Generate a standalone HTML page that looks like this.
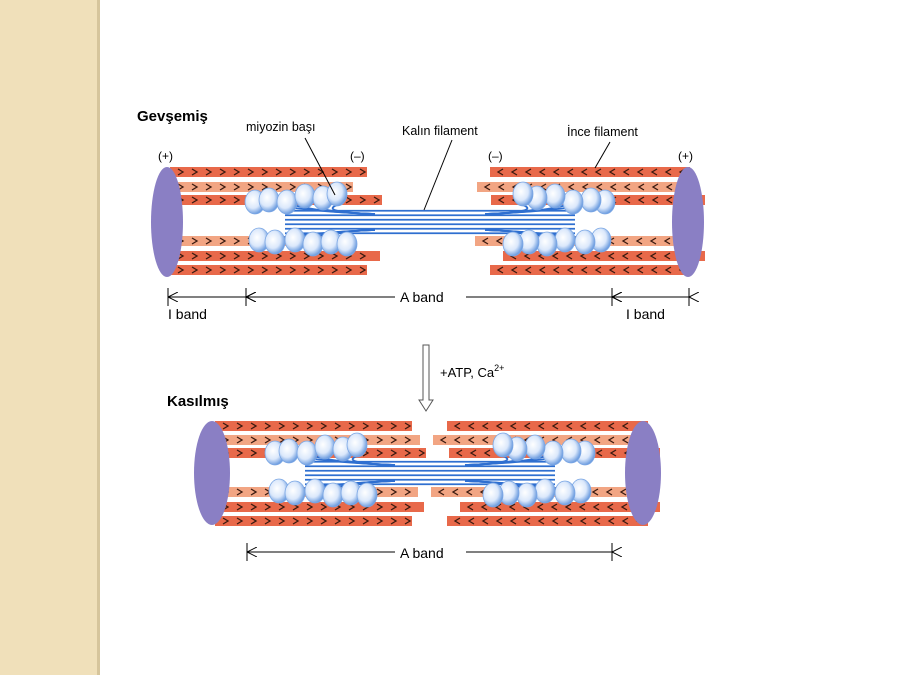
<!DOCTYPE html>
<html><head><meta charset="utf-8"><style>
body{margin:0;width:900px;height:675px;overflow:hidden;background:#fff;position:relative;font-family:"Liberation Sans",sans-serif}
#side{position:absolute;left:0;top:0;width:97px;height:675px;background:#f0e0ba;border-right:3px solid #d6c59c}
svg{position:absolute;left:0;top:0}
</style></head><body>
<div id="side"></div>
<svg id="s" width="900" height="675" viewBox="0 0 900 675" font-family="Liberation Sans, sans-serif">
<defs>
<marker id="ah" markerWidth="10" markerHeight="10" refX="0" refY="5" orient="auto" markerUnits="userSpaceOnUse"><path d="M10,0 L0,5 L10,10" fill="none" stroke="#000" stroke-width="1"/></marker>
<radialGradient id="hg" cx="0.4" cy="0.4" r="0.6"><stop offset="0" stop-color="#fff"/><stop offset="0.6" stop-color="#dbe8fb"/><stop offset="1" stop-color="#6f9ee0"/></radialGradient>
</defs>
<g id="g"></g>
<text x="137" y="121" font-size="15" font-weight="bold">Gevşemiş</text>
<text x="246" y="131" font-size="12.5">miyozin başı</text>
<text x="402" y="135" font-size="12.5">Kalın filament</text>
<text x="567" y="136" font-size="12.5">İnce filament</text>
<text x="158" y="160" font-size="12">(+)</text>
<text x="350" y="160" font-size="12">(–)</text>
<text x="488" y="160" font-size="12">(–)</text>
<text x="678" y="160" font-size="12">(+)</text>
<text x="168" y="319" font-size="14">I band</text>
<text x="626" y="319" font-size="14">I band</text>
<text x="400" y="302" font-size="14">A band</text>
<text x="400" y="558" font-size="14">A band</text>
<text x="440" y="377" font-size="13">+ATP, Ca<tspan font-size="9" dy="-6">2+</tspan></text>
<text x="167" y="406" font-size="15" font-weight="bold">Kasılmış</text>
<line x1="305" y1="138" x2="335" y2="195" stroke="#000" stroke-width="1"/>
<line x1="452" y1="140" x2="424" y2="210" stroke="#000" stroke-width="1"/>
<line x1="610" y1="142" x2="595" y2="168" stroke="#000" stroke-width="1"/>
<path d="M423,345 V400 H419 L426,411 L433,400 H429 V345 Z" fill="#fff" stroke="#555" stroke-width="1"/>
</svg>
<script>
var g=document.getElementById('g'),ns='http://www.w3.org/2000/svg';
function el(t,a){var e=document.createElementNS(ns,t);for(var k in a)e.setAttribute(k,a[k]);g.appendChild(e);return e;}
function fil(x1,x2,y,light,dir){
 el('rect',{x:x1,y:y-5,width:x2-x1,height:10,fill:light?'#f2a583':'#e8694a'});
 for(var x=x1+8;x<x2-6;x+=14){var d=dir>0?'M'+x+','+(y-3)+' l5,3 l-5,3':'M'+(x+5)+','+(y-3)+' l-5,3 l5,3';
 el('path',{d:d,fill:'none',stroke:'#3a1a10','stroke-width':1.3});}
}
function thick(x1,x2,yc){
 for(var i=-2.5;i<=2.5;i++){el('line',{x1:x1+30,x2:x2-30,y1:yc+i*4.5,y2:yc+i*4.5,stroke:'#2f6fd0','stroke-width':1.8});}
 for(var i=0;i<4;i++){
  el('path',{d:'M'+(x1+120)+','+(yc-8)+' Q'+(x1+60)+','+(yc-10)+' '+(x1+10+i*25)+','+(yc-18),fill:'none',stroke:'#2f6fd0','stroke-width':1.8});
  el('path',{d:'M'+(x1+120)+','+(yc+8)+' Q'+(x1+60)+','+(yc+10)+' '+(x1+10+i*25)+','+(yc+18),fill:'none',stroke:'#2f6fd0','stroke-width':1.8});
  el('path',{d:'M'+(x2-120)+','+(yc-8)+' Q'+(x2-60)+','+(yc-10)+' '+(x2-10-i*25)+','+(yc-18),fill:'none',stroke:'#2f6fd0','stroke-width':1.8});
  el('path',{d:'M'+(x2-120)+','+(yc+8)+' Q'+(x2-60)+','+(yc+10)+' '+(x2-10-i*25)+','+(yc+18),fill:'none',stroke:'#2f6fd0','stroke-width':1.8});
 }
 var hs=[[0,-20],[14,-22],[32,-20],[50,-26],[68,-24],[82,-28],[4,18],[20,20],[40,18],[58,22],[76,20],[92,22]];
 hs.forEach(function(h){
  el('ellipse',{cx:x1+h[0],cy:yc+h[1],rx:10,ry:12,fill:'url(#hg)',stroke:'#7aa6e4','stroke-width':0.8});
  el('ellipse',{cx:x2-h[0],cy:yc+h[1],rx:10,ry:12,fill:'url(#hg)',stroke:'#7aa6e4','stroke-width':0.8});
 });
}
// top
var ty=[172,187,200,241,256,270],L=[[170,367,0],[170,353,1],[170,382,0],[170,350,1],[170,380,0],[170,367,0]],R=[[490,690,0],[477,690,1],[491,705,0],[475,690,1],[503,705,0],[490,690,0]];
for(var i=0;i<6;i++){fil(L[i][0],L[i][1],ty[i],L[i][2],1);fil(R[i][0],R[i][1],ty[i],R[i][2],-1);}
thick(255,605,222);
el('ellipse',{cx:167,cy:222,rx:16,ry:55,fill:'#8a7fc4'});
el('ellipse',{cx:688,cy:222,rx:16,ry:55,fill:'#8a7fc4'});
// bottom
var by=[426,440,453,492,507,521],BL=[[215,412,0],[215,420,1],[215,426,0],[215,418,1],[215,424,0],[215,412,0]],BR=[[447,648,0],[433,648,1],[449,660,0],[431,648,1],[460,660,0],[447,648,0]];
for(var i=0;i<6;i++){fil(BL[i][0],BL[i][1],by[i],BL[i][2],1);fil(BR[i][0],BR[i][1],by[i],BR[i][2],-1);}
thick(275,585,473);
el('ellipse',{cx:212,cy:473,rx:18,ry:52,fill:'#8a7fc4'});
el('ellipse',{cx:643,cy:473,rx:18,ry:52,fill:'#8a7fc4'});
// dimension lines
function dim(x1,x2,y,gap1,gap2){
 if(gap1){el('line',{x1:x1,y1:y,x2:gap1,y2:y,stroke:'#000','marker-start':'url(#ah)'});el('line',{x1:gap2,y1:y,x2:x2,y2:y,stroke:'#000','marker-end':'url(#ah)'});}
 else el('line',{x1:x1,y1:y,x2:x2,y2:y,stroke:'#000','marker-start':'url(#ah)','marker-end':'url(#ah)'});
}
[168,246,612,689].forEach(function(x){el('line',{x1:x,y1:288,x2:x,y2:306,stroke:'#000'});});
dim(168,246,297);dim(612,689,297);dim(246,612,297,395,466);
[247,612].forEach(function(x){el('line',{x1:x,y1:543,x2:x,y2:561,stroke:'#000'});});
dim(247,612,552,395,466);
</script>
</body></html>
